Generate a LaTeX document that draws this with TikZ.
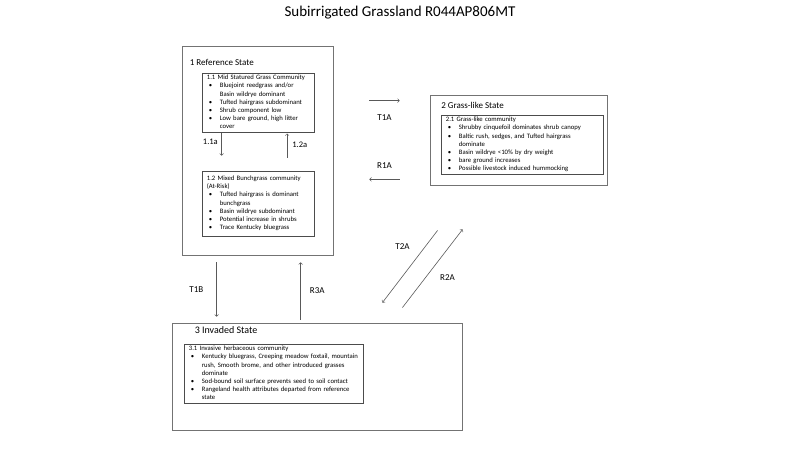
\documentclass[tikz,border=0pt]{standalone}
\usepackage{fontspec}
\setmainfont{Carlito}
\usetikzlibrary{positioning}
\newcommand{\bu}{\hspace{2pt}\textbullet}

\begin{document}
\begin{tikzpicture}[x=1pt,y=1pt,>=to,font=\fontsize{9}{11}\selectfont]
  \tikzstyle{state}=[draw=black!55,line width=0.8pt,inner sep=0pt]
  \tikzstyle{comm}=[draw=black!70,line width=0.6pt,inner xsep=5pt,inner ysep=1pt,align=left,font=\fontsize{6.7}{8.2}\selectfont]
  \tikzstyle{lbl}=[inner sep=0pt,anchor=west]
  \tikzstyle{tr}=[->,black!65,line width=0.6pt]
  \tikzstyle{tl}=[inner sep=0pt,text=black]
  \useasboundingbox (0,0) rectangle (800,450);
  \node (title) at (400,437) {\fontsize{15}{18}\selectfont Subirrigated Grassland R044AP806MT};
  % states
  \node[state,minimum width=151pt,minimum height=209pt] (ref) at (257.5,299.5) {};
  \node[state,minimum width=177pt,minimum height=90pt] (grass) at (518.5,310) {};
  \node[state,minimum width=290pt,minimum height=107pt] (inv) at (317,73.5) {};
  \node[lbl] (ref-l) at ([shift={(8,-17)}]ref.north west) {1 Reference State};
  \node[lbl] (grass-l) at ([shift={(11.5,-10.5)}]grass.north west) {2 Grass-like State};
  \node[lbl,font=\fontsize{10}{12}\selectfont] (inv-l) at ([shift={(23,-7.5)}]inv.north west) {3 Invaded State};
  % communities
  \node[comm,text width=102pt,below right=27pt and 20pt of ref.north west] (c11) {\begin{tabular}{@{}p{13pt}@{}l@{}}
    \multicolumn{2}{@{}l@{}}{1.1 Mid Statured Grass Community}\\
    \bu & Bluejoint reedgrass and/or\\
        & Basin wildrye dominant\\
    \bu & Tufted hairgrass subdominant\\
    \bu & Shrub component low\\
    \bu & Low bare ground, high litter\\
        & cover
  \end{tabular}};
  \node[comm,text width=102pt,minimum height=65pt,below right=125pt and 20pt of ref.north west] (c12) {\begin{tabular}{@{}p{13pt}@{}l@{}}
    \multicolumn{2}{@{}l@{}}{1.2 Mixed Bunchgrass community}\\
    \multicolumn{2}{@{}l@{}}{(At-Risk)}\\
    \bu & Tufted hairgrass is dominant\\
        & bunchgrass\\
    \bu & Basin wildrye subdominant\\
    \bu & Potential increase in shrubs\\
    \bu & Trace Kentucky bluegrass
  \end{tabular}};
  \node[comm,text width=152pt,below right=20pt and 11pt of grass.north west] (c21) {\begin{tabular}{@{}p{13pt}@{}l@{}}
    \multicolumn{2}{@{}l@{}}{2.1 Grass-like community}\\
    \bu & Shrubby cinquefoil dominates shrub canopy\\
    \bu & Baltic rush, sedges, and Tufted hairgrass\\
        & dominate\\
    \bu & Basin wildrye \textless10\% by dry weight\\
    \bu & bare ground increases\\
    \bu & Possible livestock induced hummocking
  \end{tabular}};
  \node[comm,text width=169pt,below right=21pt and 12pt of inv.north west] (c31) {\begin{tabular}{@{}p{13pt}@{}l@{}}
    \multicolumn{2}{@{}l@{}}{3.1 Invasive herbaceous community}\\
    \bu & Kentucky bluegrass, Creeping meadow foxtail, mountain\\
        & rush, Smooth brome, and other introduced grasses\\
        & dominate\\
    \bu & Sod-bound soil surface prevents seed to soil contact\\
    \bu & Rangeland health attributes departed from reference\\
        & state
  \end{tabular}};
  % pathways
  \draw[tr] ([xshift=20pt]c11.south west) -- node[tl,pos=0.4,left=3.5pt,font=\fontsize{8.5}{10}\selectfont]{1.1a} ([shift={(20,15)}]c12.north west);
  \draw[tr] ([shift={(85.5,13)}]c12.north west) -- node[tl,pos=0.55,right=5pt,font=\fontsize{8.5}{10}\selectfont]{1.2a} ([shift={(85.5,-1)}]c11.south west);
  % transitions
  \draw[tr] ([shift={(36,-55)}]ref.north east) -- node[tl,below=14pt]{T1A} ([shift={(-30,-6)}]grass.north west);
  \draw[tr] ([shift={(-30,6)}]grass.south west) -- node[tl,above=11pt]{R1A} ([shift={(36,76)}]ref.south east);
  \draw[tr] ([shift={(8,-45)}]grass.south west) -- node[tl,pos=0.23,left=15pt]{T2A} ([shift={(-80,20)}]inv.north east);
  \draw[tr] ([shift={(-60,15)}]inv.north east) -- node[tl,pos=0.39,right=14pt]{R2A} ([shift={(33,-44)}]grass.south west);
  \draw[tr] ([shift={(35,-7)}]ref.south west) -- node[tl,left=13pt]{T1B} ([shift={(45,6)}]inv.north west);
  \draw[tr] ([shift={(129,3)}]inv.north west) -- node[tl,right=9pt]{R3A} ([shift={(119,-7)}]ref.south west);
\end{tikzpicture}
\end{document}
